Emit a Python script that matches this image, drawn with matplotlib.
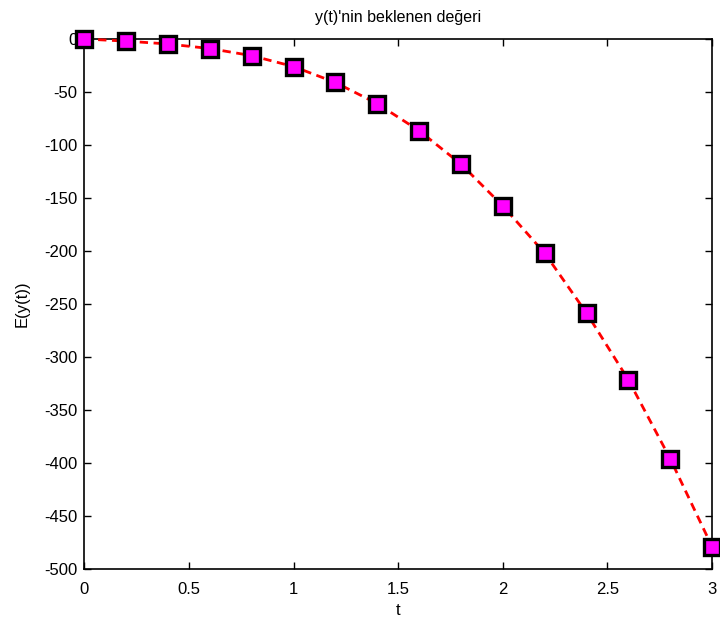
import matplotlib.pyplot as plt
import numpy as np

plt.rcParams['font.family'] = ['Liberation Sans', 'DejaVu Sans']
plt.rcParams['axes.unicode_minus'] = False

# expected value of y(t)
t = [0, 0.2, 0.4, 0.6, 0.8, 1.0, 1.2, 1.4, 1.6, 1.8, 2.0, 2.2, 2.4, 2.6, 2.8, 3.0]
ey = [0, -2, -4.7, -9, -15.7, -26, -41, -61, -86.5, -118, -157.5,
      -202, -258.5, -321.5, -396, -479]

xticks = [0, 0.5, 1, 1.5, 2, 2.5, 3]
xticklabels = ['0', '0.5', '1', '1.5', '2', '2.5', '3']
yticks = list(range(-500, 1, 50))

fig = plt.figure(figsize=(7.2, 6.25), dpi=100)
ax = fig.add_axes([0.117, 0.0896, 0.872, 0.848])

ax.plot(t, ey, '--', color='red', lw=2, dashes=(3, 2),
        marker='s', markersize=11, markerfacecolor='#ff00ff',
        markeredgecolor='black', markeredgewidth=2.4, clip_on=False, zorder=3)

ax.set_xlim(0, 3)
ax.set_ylim(-500, 0)
ax.set_xticks(xticks)
ax.set_xticklabels(xticklabels)
ax.set_yticks(yticks)
ax.tick_params(direction='in', top=True, right=True, length=5, labelsize=12,
               width=1)
ax.tick_params(axis='x', pad=9)
ax.tick_params(axis='y', pad=5)
for s in ax.spines.values():
    s.set_linewidth(1.2)

ax.set_title("y(t)'nin beklenen değeri", fontsize=11.5, pad=12)
ax.set_xlabel('t', fontsize=12, labelpad=5)
ax.set_ylabel('E(y(t))', fontsize=12, labelpad=10)

plt.savefig('out.png', dpi=100)
